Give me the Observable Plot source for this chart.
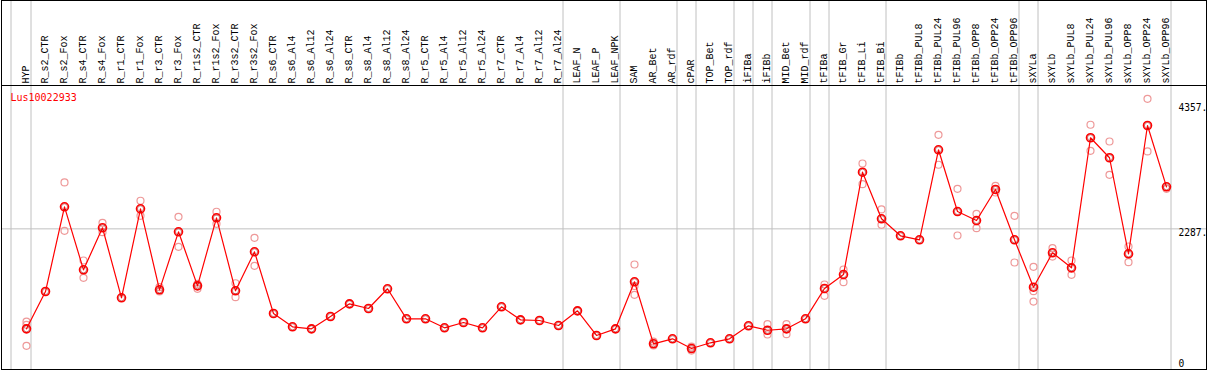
<!DOCTYPE html>
<html>
<head>
<meta charset="utf-8">
<script src="https://cdn.jsdelivr.net/npm/d3@7"></script>
<script src="https://cdn.jsdelivr.net/npm/@observablehq/plot@0.6"></script>
<style>
  html, body { margin: 0; padding: 0; background: #fff; }
  svg { display: block; }
</style>
</head>
<body>
<div id="chart"></div>
<script>
const labels = ["HYP","R_s2_CTR","R_s2_Fox","R_s4_CTR","R_s4_Fox","R_r1_CTR","R_r1_Fox","R_r3_CTR","R_r3_Fox",
  "R_r1s2_CTR","R_r1s2_Fox","R_r3s2_CTR","R_r3s2_Fox","R_s6_CTR","R_s6_Al4","R_s6_Al12","R_s6_Al24",
  "R_s8_CTR","R_s8_Al4","R_s8_Al12","R_s8_Al24","R_r5_CTR","R_r5_Al4","R_r5_Al12","R_r5_Al24",
  "R_r7_CTR","R_r7_Al4","R_r7_Al12","R_r7_Al24","LEAF_N","LEAF_P","LEAF_NPK","SAM","AR_Bet","AR_rdf",
  "cPAR","TOP_Bet","TOP_rdf","iFIBa","iFIBb","MID_Bet","MID_rdf","tFIBa","tFIB_Gr","tFIB_Li","tFIB_Bi",
  "tFIBb","tFIBb_PUL8","tFIBb_PUL24","tFIBb_PUL96","tFIBb_OPP8","tFIBb_OPP24","tFIBb_OPP96",
  "sXYLa","sXYLb","sXYLb_PUL8","sXYLb_PUL24","sXYLb_PUL96","sXYLb_OPP8","sXYLb_OPP24","sXYLb_OPP96"];

const means = [632, 1250, 2652, 1609, 2305, 1146, 2619, 1278, 2238, 1344, 2470, 1262, 1907,
  886, 666, 632, 836, 1046, 969, 1295, 798, 798, 649, 737, 649, 997, 781, 770, 687,
  930, 522, 632, 1411, 384, 467, 306, 401, 467, 682, 609, 632, 798,
  1300, 1531, 3225, 2454, 2172, 2106, 3596, 2574, 2425, 2939, 2106,
  1321, 1891, 1642, 3795, 3464, 1874, 3998, 2983];

const replicates = [
  [753, 699, 351],      // HYP
  [], [3055, 2255], [1763, 1477], [2387, 2232], [], [2752, 2503], [1321, 1250], [2487, 1990],
  [1377, 1295], [2570, 2371], [1387, 1156], [2139, 1675],
  [], [], [], [], [], [], [], [], [], [], [], [], [], [], [], [],   // R_s6 .. R_r7
  [], [], [],           // LEAF
  [1697, 1341, 1195],   // SAM
  [422, 356], [],       // AR
  [339, 273],           // cPAR
  [], [],               // TOP
  [], [709, 538],       // iFIB
  [709, 543], [],       // MID
  [1366, 1179], [1614, 1404], [3369, 3026], [2608, 2354],
  [], [], [3844, 3348], [2950, 2177], [2536, 2298], [3000, 2889], [2503, 1730],
  [1659, 1255, 1084], [1967, 1829], [1763, 1526], [4010, 3579], [3733, 3182], [1995, 1735], [4440, 3568], [2950]
];

const groupEnds = ["HYP","R_r7_Al24","LEAF_NPK","AR_rdf","cPAR","TOP_rdf","iFIBa","iFIBb","MID_rdf",
  "tFIBa","tFIB_Bi","tFIBb_OPP96","sXYLa","sXYLb_OPP96"];
const geneName = "Lus10022933";
const tickValues = [4357, 2287, 0];
const tickLabels = ["4357.", "2287.", "0"];
const yDomain = [-41, 4660];

const repLabel = [], repValue = [];
replicates.forEach((r, i) => r.forEach(v => { repLabel.push(labels[i]); repValue.push(v); }));

const font = "DejaVu Sans Mono, monospace";
const gray = "#c0c0c0";

const chart = Plot.plot({
  width: 1209,
  height: 370,
  marginTop: 0,
  marginBottom: 1,
  marginLeft: 1,
  marginRight: 3,
  style: { fontFamily: font, fontSize: "10px", background: "#fff" },
  x: { type: "point", domain: labels, range: [26, 1166], padding: 0, axis: null },
  y: { domain: yDomain, range: [369, 85], axis: null },
  marks: [
    Plot.ruleX(groupEnds, { x: d => d, dx: 4.5, stroke: gray }),
    Plot.ruleX([labels[0]], { x: d => d, dx: -15.5, stroke: gray }),
    Plot.ruleY([tickValues[1]], { stroke: gray }),
    Plot.ruleY([yDomain[1]], { stroke: "#000" }),
    Plot.frame({ stroke: "#000" }),
    Plot.text(labels, {
      x: d => d, frameAnchor: "top", dx: -0.5, dy: 83, rotate: -90,
      textAnchor: "start", lineAnchor: "middle", fill: "#000", fontSize: 10,
      fontFamily: "Liberation Mono"
    }),
    Plot.text([geneName], {
      frameAnchor: "top-left", dx: 9, dy: 93, textAnchor: "start", lineAnchor: "top",
      fill: "#ff0000", fontSize: 10
    }),
    Plot.text(tickValues.slice(0, 2), {
      y: d => d, frameAnchor: "right", dx: -28, textAnchor: "start", lineAnchor: "top",
      text: (d, i) => tickLabels[i], fill: "#000", fontSize: 9.6
    }),
    Plot.text(tickValues.slice(2), {
      y: d => d, frameAnchor: "right", dx: -28, textAnchor: "start", lineAnchor: "bottom",
      text: (d, i) => tickLabels[2 + i], fill: "#000", fontSize: 9.6
    }),
    Plot.dot(repValue, { x: repLabel, y: repValue, r: 3.5, stroke: "#ee9999", strokeWidth: 1.2, fill: "none" }),
    Plot.line(means, { x: labels, y: means, stroke: "#ff0000", strokeWidth: 1.2 }),
    Plot.dot(means, { x: labels, y: means, r: 4, stroke: "#ff0000", strokeWidth: 1.6, fill: "none" }),
    Plot.dot(means, { x: labels, y: means, r: 3, stroke: "#990000", strokeWidth: 0.8, strokeOpacity: 0.6, fill: "none" })
  ]
});
document.getElementById("chart").appendChild(chart);
</script>
</body>
</html>
